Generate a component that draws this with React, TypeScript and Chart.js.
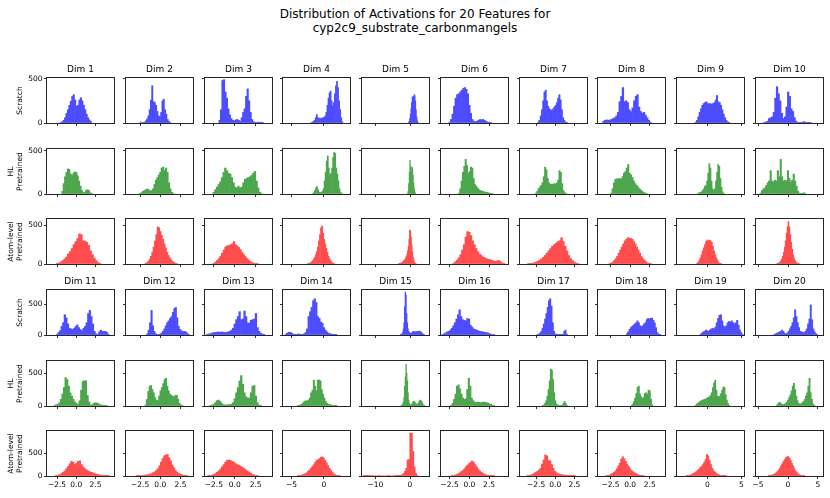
import React, { useEffect, useRef } from "react";
import { Chart, registerables } from "chart.js";
Chart.register(...registerables);

const FONT = "'DejaVu Sans', sans-serif";
Chart.defaults.font.family = FONT;
Chart.defaults.color = "#000";

const suptitleLines = ["Distribution of Activations for 20 Features for", "cyp2c9_substrate_carbonmangels"];
const dimLabels = ["Dim 1","Dim 2","Dim 3","Dim 4","Dim 5","Dim 6","Dim 7","Dim 8","Dim 9","Dim 10",
  "Dim 11","Dim 12","Dim 13","Dim 14","Dim 15","Dim 16","Dim 17","Dim 18","Dim 19","Dim 20"];
const modelLabels: (string | string[])[] = ["Scratch", ["HL", "Pretrained"], ["Atom-level", "Pretrained"]];
// blue / green / red at alpha 0.7 over white
const modelColors = ["rgb(77,77,255)", "rgb(77,166,77)", "rgb(255,77,77)"];

// per column x limits and ticks (shared by the 6 rows)
const colXMin = [-3.8, -4.25, -3.55, -6.3, -13.9, -3.6, -4.6, -4.1, -4.45, -5.35];
const colXMax = [4.9, 4.05, 4.45, 4.0, 5.5, 4.9, 4.15, 4.45, 5.4, 5.85];
const colTicks = [[-2.5,0,2.5],[-2.5,0,2.5],[-2.5,0,2.5],[-5,0],[-10,0],[-2.5,0,2.5],[-2.5,0,2.5],[-2.5,0,2.5],[0,5],[-5,0,5]];
const colTickLabels = [["\u22122.5","0.0","2.5"],["\u22122.5","0.0","2.5"],["\u22122.5","0.0","2.5"],["\u22125","0"],["\u221210","0"],
  ["\u22122.5","0.0","2.5"],["\u22122.5","0.0","2.5"],["\u22122.5","0.0","2.5"],["0","5"],["\u22125","0","5"]];
// per row y max, y ticks
const rowYMax = [508, 520, 583, 733, 682, 985];
const yTicks = [0, 500];
const yTickLabels = ["0", "500"];

// histogram bin ranges [first edge, last edge] and counts, Dim 1..20
const scratchEdges: number[][] = [[-2.1,2.0],[-2.5,1.3],[-1.9,3.4],[-2.0,2.9],[-0.5,2.4],[-2.6,2.8],[-2.3,1.6],[-3.5,2.7],[-1.8,3.3],[-4.1,3.9],
  [-2.6,4.3],[-1.7,3.6],[-3.4,3.6],[-6.0,2.0],[-2.8,4.2],[-3.5,3.2],[-2.4,1.6],[-0.5,3.9],[-1.1,5.3],[-2.4,5.0]];
const scratchCounts: number[][] = [
  [5,15,30,60,110,150,200,245,300,320,260,190,200,260,285,250,200,150,100,60,35,15],
  [10,0,5,10,25,45,80,150,260,420,240,230,200,130,80,70,120,250,270,150,100,40,20,5],
  [30,150,480,490,350,280,160,90,50,30,25,35,40,30,20,60,120,160,300,385,250,120,40,15,8,5,10,8,3,2],
  [5,10,20,30,60,95,60,50,55,50,55,60,65,80,120,200,280,340,360,250,190,230,330,420,470,400,250,150,60,15],
  [5,20,50,100,160,230,290,300,290,320,310,250,150,70,25,5],
  [10,40,100,190,280,320,330,350,370,390,400,380,330,200,110,40,20,15,20,30,40,35,40,30,20,10,5,2],
  [10,30,80,150,250,350,370,250,190,160,150,140,160,180,200,230,280,320,260,150,60,30,10,3],
  [20,30,35,30,35,40,50,60,80,120,240,300,400,240,250,230,150,130,170,250,300,320,180,130,110,120,90,60,30,10],
  [10,30,70,120,160,200,220,230,240,220,215,220,210,220,230,260,310,240,230,200,150,100,60,30,15,5],
  [5,10,20,50,60,70,120,280,410,330,250,110,50,70,180,350,300,160,130,60,20,5,3,2,10,15,8,2,1,1],
  [10,40,70,140,200,330,280,180,110,100,90,110,140,165,120,90,70,110,140,200,350,400,300,180,60,20,10,50,80,60,55,60,40,10],
  [20,80,200,400,150,60,20,10,10,15,30,60,100,150,200,230,270,300,370,430,450,280,140,90,70,55,60,50,30,10],
  [10,15,20,30,40,40,45,50,45,50,45,40,45,50,60,80,110,180,250,300,380,250,260,390,300,200,190,240,250,260,350,120,60,30,15,5],
  [5,30,45,45,30,15,10,10,15,15,10,10,20,40,100,300,380,450,560,590,530,300,270,210,190,120,80,50,30,20,15,10,5,2],
  [5,10,20,40,100,200,460,700,650,350,200,100,60,40,30,25,30,40,50,60,55,50,45,55,60,55,50,55,65,60,50,40,30,20,10,5],
  [10,20,35,50,60,80,110,150,200,260,330,410,300,250,240,230,270,260,160,130,100,90,80,70,60,55,50,45,40,35,25,15,8,3],
  [5,15,30,60,110,180,260,350,450,560,590,470,200,60,20,10,5,3,2,3,10,60,80,15],
  [20,50,90,120,140,160,180,200,230,200,150,140,150,180,200,250,270,260,270,275,240,200,120,40,15,5],
  [10,30,50,60,80,70,60,80,100,110,100,130,200,270,320,330,230,150,130,150,200,220,210,230,200,180,200,240,160,80,40,10],
  [10,20,30,40,50,60,80,60,30,20,30,60,100,140,200,280,410,300,200,120,60,50,40,40,60,100,180,260,490,250,100,50,20,8],
];
const hlEdges: number[][] = [[-1.9,2.1],[-2.6,1.7],[-2.6,3.3],[-1.8,2.8],[-0.8,1.7],[-1.4,3.0],[-2.6,1.5],[-2.5,2.2],[-1.4,2.5],[-4.7,3.0],
  [-2.9,4.0],[-1.9,2.8],[-3.0,3.2],[-4.1,2.0],[-2.6,4.4],[-2.4,3.2],[-1.7,1.6],[0.1,2.9],[-1.8,3.3],[-1.9,4.5]];
const hlCounts: number[][] = [
  [30,120,200,250,290,285,230,215,240,255,250,210,150,90,40,15,20,40,50,40,15,5],
  [5,15,30,40,50,58,50,35,40,60,110,160,190,220,250,300,310,270,300,250,130,60,20,5],
  [20,50,80,110,140,190,250,300,270,240,230,190,130,80,70,90,70,80,130,170,180,190,200,215,240,260,150,70,20,5],
  [5,15,40,70,85,50,20,15,20,30,60,150,250,380,440,300,220,240,300,420,480,470,300,230,150,60,20,5],
  [5,30,120,250,390,320,270,310,300,220,130,60,25,5],
  [10,60,150,250,320,400,330,240,260,310,300,180,110,90,70,50,40,35,30,25,20,20,15,10,5,2],
  [10,30,60,80,100,130,200,310,280,180,130,110,115,110,120,115,130,160,270,250,120,40,15,5],
  [10,60,130,170,175,175,180,170,200,240,260,300,340,240,220,190,150,120,100,80,60,45,30,20,10,5],
  [5,15,20,25,40,60,90,100,150,240,350,300,150,60,40,60,150,250,340,320,180,80,25,5],
  [10,40,60,70,100,130,150,270,150,140,160,150,270,200,400,200,150,160,150,270,180,140,160,230,150,90,30,10,3,5,15,5],
  [10,20,25,50,100,180,280,430,400,300,200,150,100,60,35,30,80,240,370,385,380,160,60,20,15,40,50,45,35,20,15,10,5,2],
  [20,100,220,300,310,250,200,130,90,80,150,230,280,340,400,420,300,230,180,160,150,140,160,160,100,40,15,5],
  [5,15,25,50,80,90,70,40,20,15,15,20,20,30,50,110,200,280,380,460,330,200,140,120,120,200,300,310,150,50,15,5],
  [5,10,20,30,50,70,80,75,90,120,200,240,390,300,230,390,395,380,250,180,120,70,40,30,20,15,10,8,5,2],
  [5,15,30,60,130,300,440,630,500,380,200,90,40,20,15,20,30,50,70,75,60,40,30,25,30,40,60,80,90,85,70,50,30,15,8,3],
  [10,40,100,180,300,320,260,180,120,100,110,250,420,300,120,80,60,55,60,55,50,55,60,55,50,45,35,25,10,3],
  [5,15,40,80,150,250,380,560,540,400,200,80,30,15,8,5,5,10,40,70,40,10],
  [10,30,70,120,190,280,300,180,140,110,130,190,200,180,240,230,100,20],
  [10,30,45,55,70,80,90,95,100,110,120,130,140,160,200,280,350,390,240,150,140,150,190,240,290,280,170,90,40,10],
  [20,45,55,40,25,20,25,40,60,90,130,170,230,300,345,250,150,80,40,30,35,50,70,100,150,200,300,420,200,100,30,10],
];
const atomEdges: number[][] = [[-2.6,3.2],[-1.9,2.1],[-2.6,2.8],[-2.5,1.6],[-3.3,1.8],[-2.1,4.5],[-3.6,3.1],[-2.7,2.7],[-1.6,2.1],[-1.9,1.9],
  [-2.7,4.3],[-3.0,3.4],[-3.2,2.8],[-4.1,2.5],[-13.5,2.3],[-2.3,3.2],[-3.7,2.6],[-3.1,1.8],[-3.1,2.8],[-3.3,2.8]];
const atomCounts: number[][] = [
  [5,12,25,45,65,90,130,160,200,250,290,330,390,380,300,295,280,240,170,120,75,45,20,8],
  [5,15,35,60,100,150,220,300,380,480,470,420,370,320,260,210,150,110,80,55,35,20,10,3],
  [10,25,45,70,100,140,180,220,235,240,250,260,290,250,235,215,185,150,120,95,70,50,30,20,10,5,2],
  [3,8,15,25,40,60,85,120,160,220,300,380,470,490,400,320,260,200,150,100,70,45,25,12,5],
  [3,5,8,12,15,20,30,40,50,60,80,100,130,170,230,320,440,430,350,250,160,90,50,25,10,3],
  [10,30,50,80,120,180,250,350,420,410,370,300,250,200,160,130,110,90,80,70,60,55,50,40,35,40,45,30,15,5],
  [3,5,10,15,25,35,50,65,85,110,140,170,200,230,250,270,290,300,340,290,230,170,110,70,45,25,12,5],
  [5,10,25,45,70,100,140,180,220,260,300,320,340,335,330,320,290,260,220,180,140,100,70,50,30,15,8,3],
  [5,20,45,80,120,170,210,250,290,310,300,310,300,280,230,170,120,80,45,20,8,2],
  [3,8,15,25,40,65,100,150,220,300,400,480,550,480,380,280,190,120,75,45,25,12,5,2],
  [5,15,30,50,80,110,160,210,270,320,300,250,280,320,330,250,200,160,130,110,90,80,65,50,40,30,20,15,10,5,3,1],
  [3,5,8,12,15,20,25,30,40,50,70,90,120,160,220,300,380,440,460,470,400,330,240,180,120,80,55,40,30,15,8,3],
  [5,10,20,35,55,80,110,150,200,250,300,340,350,340,320,300,270,250,235,215,190,165,140,110,85,60,40,25,12,5],
  [5,10,15,25,35,50,70,100,130,170,210,250,300,340,360,380,410,420,390,340,290,230,170,120,80,50,30,15,8,3],
  [5,8,5,3,2,0,1,0,0,0,0,1,0,0,0,0,0,0,1,0,0,0,0,1,2,4,8,15,30,55,100,170,350,360,940,930,540,200,60,10],
  [5,10,20,35,50,70,95,120,160,200,240,270,300,330,300,250,200,150,110,80,55,40,25,15,10,5,3,1],
  [5,10,20,35,55,80,100,130,170,260,350,460,440,340,330,250,170,100,70,50,40,30,25,20,15,10,8,5,3,1],
  [5,10,20,35,55,80,110,160,220,280,370,420,380,320,260,210,160,120,90,70,50,35,20,12,6,2],
  [5,10,15,25,40,55,75,95,120,150,180,210,250,300,360,470,440,340,250,170,120,85,60,40,25,15,10,5,3,1],
  [5,10,15,25,35,50,70,95,130,170,220,270,320,360,400,420,425,390,340,280,220,160,110,75,50,30,18,10,5,2],
];
const modelEdges = [scratchEdges, hlEdges, atomEdges];
const modelCounts = [scratchCounts, hlCounts, atomCounts];

// geometry of the subplot grid
const AX_LEFT0 = 47, COL_STEP = 78.75, AX_W = 67;
const AX_TOP0 = 78, ROW_STEP = 70.65, AX_H = 45;
const PAD_L = 40, PAD_T = 16, PAD_R = 12, PAD_B = 16;
const CW = PAD_L + AX_W + PAD_R, CH = PAD_T + AX_H + PAD_B;

type Cell = { row: number; col: number; dimIdx: number; model: number; left: number; top: number };
const cells: Cell[] = [];
for (let block = 0; block < 2; block++) {
  for (let m = 0; m < 3; m++) {
    for (let c = 0; c < 10; c++) {
      const row = block * 3 + m;
      cells.push({
        row, col: c, dimIdx: block * 10 + c, model: m,
        left: Math.round(AX_LEFT0 + c * COL_STEP) - PAD_L,
        top: Math.round(AX_TOP0 + row * ROW_STEP) - PAD_T,
      });
    }
  }
}

const framePlugin = {
  id: "frame",
  afterDraw(chart: any) {
    const { ctx, chartArea } = chart;
    const { left, top, right, bottom } = chartArea;
    ctx.save();
    ctx.strokeStyle = "#262626";
    ctx.lineWidth = 1;
    ctx.strokeRect(left - 0.5, top - 0.5, right - left + 1, bottom - top + 1);
    ctx.restore();
  },
};

export default function App() {
  const refs = useRef<(HTMLCanvasElement | null)[]>([]);

  useEffect(() => {
    const charts = cells.map((cell, i) => {
      const canvas = refs.current[i] as HTMLCanvasElement;
      const edges = modelEdges[cell.model][cell.dimIdx];
      const counts = modelCounts[cell.model][cell.dimIdx];
      const w = (edges[1] - edges[0]) / counts.length;
      const pts = counts.map((v, k) => ({ x: edges[0] + (k + 0.5) * w, y: v }));
      const showTitle = cell.model === 0;
      const showX = cell.row === 5;
      const showY = cell.col === 0;
      const label = modelLabels[cell.model];
      const nLines = Array.isArray(label) ? label.length : 1;
      const xt = colTicks[cell.col];
      const xl = colTickLabels[cell.col];
      const tickGrid = {
        display: true, drawOnChartArea: false, drawTicks: true,
        tickLength: 3, tickColor: "#333", tickWidth: 1, offset: false,
      };
      return new Chart(canvas, {
        type: "bar",
        data: {
          datasets: [{
            data: pts as any,
            backgroundColor: modelColors[cell.model],
            borderWidth: 0,
            barPercentage: 1,
            categoryPercentage: 1,
            inflateAmount: 0.33,
          } as any],
        },
        options: {
          animation: false,
          responsive: false,
          devicePixelRatio: 1,
          events: [],
          layout: { padding: { left: 0, right: PAD_R, top: showTitle ? 0 : PAD_T, bottom: 0 } },
          plugins: {
            legend: { display: false },
            tooltip: { enabled: false },
            title: {
              display: showTitle,
              text: dimLabels[cell.dimIdx],
              color: "#000",
              align: "center",
              fullSize: false,
              font: { family: FONT, size: 9, weight: "normal", lineHeight: 1.2 },
              padding: { top: 2.5, bottom: 2.7 },
            },
          },
          scales: {
            x: {
              type: "linear",
              min: colXMin[cell.col],
              max: colXMax[cell.col],
              offset: false,
              bounds: "data",
              grid: tickGrid as any,
              border: { display: false },
              ticks: {
                display: showX,
                autoSkip: false,
                maxRotation: 0,
                minRotation: 0,
                padding: 1.5,
                color: "#000",
                font: { family: FONT, size: 7.5 },
                callback: (_v: any, idx: number) => xl[idx],
              },
              afterBuildTicks: (s: any) => { s.ticks = xt.map((v) => ({ value: v })); },
              afterFit: (s: any) => { s.height = PAD_B; },
            },
            y: {
              type: "linear",
              min: 0,
              max: rowYMax[cell.row],
              bounds: "data",
              grid: tickGrid as any,
              border: { display: false },
              ticks: {
                display: showY,
                autoSkip: false,
                padding: 1.5,
                color: "#000",
                font: { family: FONT, size: 7.5 },
                callback: (_v: any, idx: number) => yTickLabels[idx],
              },
              title: {
                display: showY,
                text: label as any,
                color: "#000",
                font: { family: FONT, size: 7.5, lineHeight: 1.2 },
                padding: { top: nLines === 1 ? 8.8 : 0, bottom: 0 },
              },
              afterBuildTicks: (s: any) => { s.ticks = yTicks.map((v) => ({ value: v })); },
              afterFit: (s: any) => { s.width = PAD_L; },
            },
          },
        } as any,
        plugins: [framePlugin],
      });
    });
    return () => charts.forEach((c) => c.destroy());
  }, []);

  return (
    <div style={{ position: "absolute", left: 0, top: 0, width: 830, height: 498, background: "#fff", overflow: "hidden" }}>
      <div
        style={{
          position: "absolute", left: 0, top: 8, width: 830, textAlign: "center",
          fontFamily: FONT, fontSize: 12, lineHeight: "13.5px", color: "#000",
        }}
      >
        {suptitleLines[0]}
        <br />
        {suptitleLines[1]}
      </div>
      {cells.map((cell, i) => (
        <canvas
          key={i}
          ref={(el) => { refs.current[i] = el; }}
          width={CW}
          height={CH}
          style={{ position: "absolute", left: cell.left, top: cell.top, width: CW, height: CH }}
        />
      ))}
    </div>
  );
}
